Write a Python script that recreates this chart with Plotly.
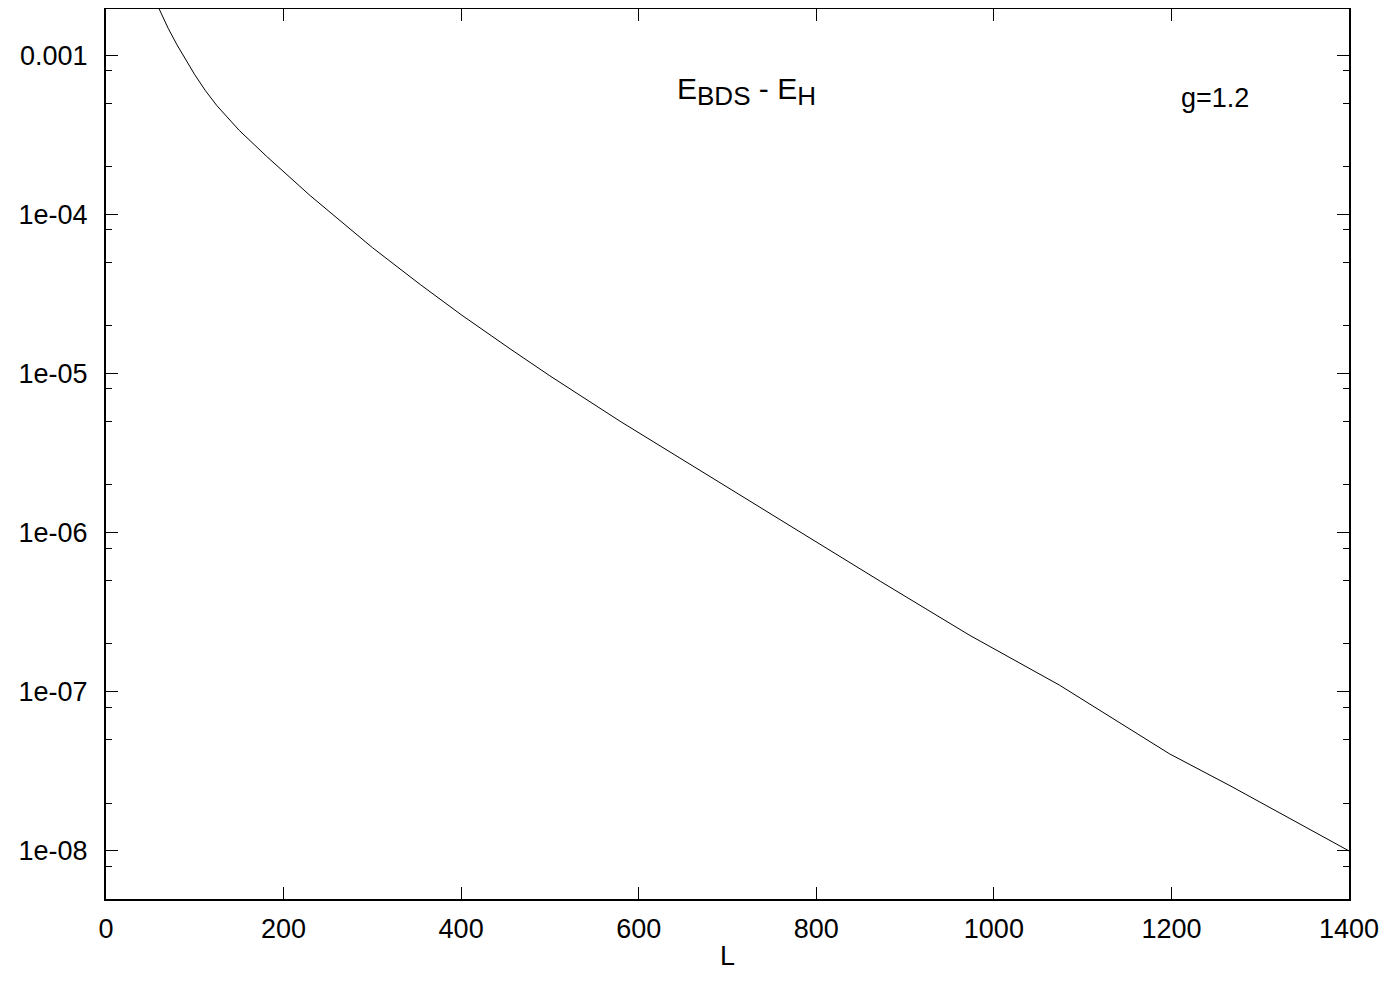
import plotly.graph_objects as go

# Data
L_vals = [59, 70, 80, 90, 100, 112, 125, 150, 181, 230, 252, 300, 354, 400, 455, 500,
          579, 680, 770, 872, 973, 1074, 1198, 1266, 1400]
E_diff = [2.00e-3, 1.476e-3, 1.16e-3, 9.25e-4, 7.53e-4, 5.98e-4, 4.81e-4, 3.37e-4, 2.31e-4,
          1.31e-4, 1.03e-4, 6.18e-5, 3.62e-5, 2.34e-5, 1.43e-5, 9.66e-6,
          5.01e-6, 2.26e-6, 1.10e-6, 4.95e-7, 2.26e-7, 1.10e-7, 4.07e-8, 2.57e-8, 1.0e-8]

x_ticks = [0, 200, 400, 600, 800, 1000, 1200, 1400]
y_ticks = [1e-3, 1e-4, 1e-5, 1e-6, 1e-7, 1e-8]
y_tick_text = ["0.001", "1e-04", "1e-05", "1e-06", "1e-07", "1e-08"]
y_minor = []
for dec in [1e-9, 1e-8, 1e-7, 1e-6, 1e-5, 1e-4, 1e-3]:
    for m in [2, 5, 8]:
        y_minor.append(m * dec)

FONT = "Liberation Sans, Arial, sans-serif"
W, H = 1374, 965  # page body has an 8px margin
T, B = 1, H - 891
plot_h = H - T - B

fig = go.Figure()
fig.add_trace(go.Scatter(x=L_vals, y=E_diff, mode="lines",
                         line=dict(color="black", width=1),
                         showlegend=False, hoverinfo="skip"))

fig.update_layout(
    width=W, height=H,
    margin=dict(l=98, r=W - 1341, t=T, b=B, autoexpand=False),
    paper_bgcolor="white", plot_bgcolor="white",
    font=dict(family=FONT, size=27, color="black"),
    xaxis=dict(range=[0, 1400], tickvals=x_ticks, ticks="inside", ticklen=12, tickwidth=1,
               tickcolor="black", showline=True, linecolor="black", linewidth=2, mirror="allticks",
               showgrid=False, zeroline=False,
               tickfont=dict(size=27), ticklabelstandoff=5, automargin=False),
    yaxis=dict(type="log", range=[-8.302, -2.71], tickvals=y_ticks, ticktext=y_tick_text,
               ticks="inside", ticklen=12, tickwidth=1, tickcolor="black",
               showline=True, linecolor="black", linewidth=2, mirror="allticks",
               showgrid=False, zeroline=False, tickfont=dict(size=27), ticklabelstandoff=11,
               automargin=False,
               minor=dict(tickvals=y_minor, ticks="inside", ticklen=6, tickcolor="black", tickwidth=1)),
    annotations=[
        dict(x=(747 - 106) / 0.8879, y=-3.23, xref="x", yref="y", yanchor="middle", xanchor="center",
             text="E<sub><span style='font-size:26px'>BDS</span></sub> - E<sub><span style='font-size:26px'>H</span></sub>",
             showarrow=False, font=dict(size=30, family=FONT)),
        dict(x=(1215 - 106) / 0.8879, y=-3.27, xref="x", yref="y", showarrow=False, text="g=1.2",
             font=dict(size=27, family=FONT)),
        dict(x=0.5, y=-57 / plot_h, xref="paper", yref="paper", xanchor="center", yanchor="middle",
             showarrow=False, text="L", font=dict(size=27, family=FONT)),
    ],
)
fig.write_html("out.html")
